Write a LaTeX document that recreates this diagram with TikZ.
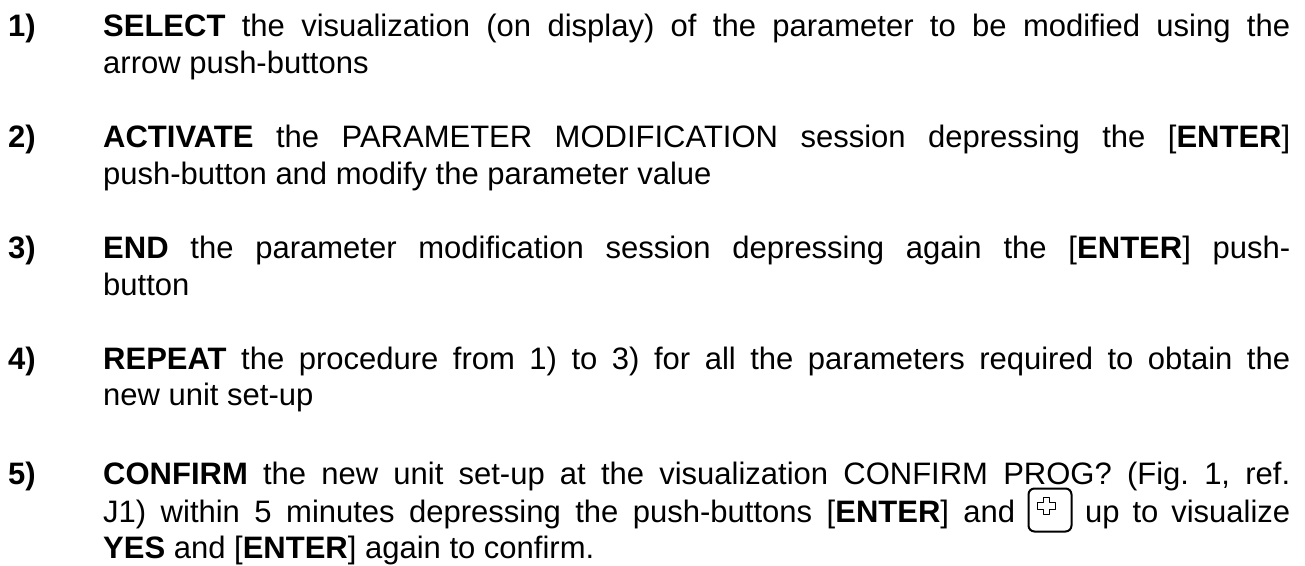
\documentclass[tikz,border=0pt]{standalone}
\usepackage{fontspec}
\usetikzlibrary{calc}
\setmainfont{Liberation Sans}
\frenchspacing
\newcommand{\fsz}{\fontsize{31pt}{37pt}\selectfont\frenchspacing}
\newcommand{\jline}[1]{\makebox[1187pt][s]{#1}}
\tikzset{
  num/.style={anchor=base west, inner sep=0pt, font={\fsz\bfseries}},
  txt/.style={anchor=base west, inner sep=0pt, font=\fsz},
  keybox/.style={draw, line width=2pt, rounded corners=6pt, minimum width=43pt, minimum height=43pt, inner sep=0pt},
  plusmark/.style={draw, line width=1.1pt, line join=round}
}
\begin{document}
\begin{tikzpicture}[x=1pt,y=-1pt]
\fill[white] (0,0) rectangle (1305,565);
\useasboundingbox (0,0) rectangle (1305,565);
% item 1
\node[num] (n1) at (8,36) {1)};
\node[txt] (l1a) at (103,36) {\jline{\textbf{SELECT} the visualization (on display) of the parameter to be modified using the}};
\node[txt] (l1b) at (103,73) {arrow push-buttons};
% item 2
\node[num] (n2) at (8,147) {2)};
\node[txt] (l2a) at (103,147) {\jline{\textbf{ACTIVATE} the PARAMETER MODIFICATION session depressing the [\textbf{ENTER}]}};
\node[txt] (l2b) at (103,184) {push-button and modify the parameter value};
% item 3
\node[num] (n3) at (8,258) {3)};
\node[txt] (l3a) at (103,258) {\jline{\textbf{END} the parameter modification session depressing again the [\textbf{ENTER}] push-}};
\node[txt] (l3b) at (103,295) {button};
% item 4
\node[num] (n4) at (8,369) {4)};
\node[txt] (l4a) at (103,369) {\jline{\textbf{REPEAT} the procedure from 1) to 3) for all the parameters required to obtain the}};
\node[txt] (l4b) at (103,405) {new unit set-up};
% item 5
\node[num] (n5) at (8,484) {5)};
\node[txt] (l5a) at (103,484) {\jline{\textbf{CONFIRM} the new unit set-up at the visualization CONFIRM PROG? (Fig. 1, ref.}};
\node[txt] (l5b) at (103,522) {\makebox[912pt][s]{J1) within 5 minutes depressing the push-buttons [\textbf{ENTER}] and}};
\node[keybox] (key) at (1050,510) {};
\coordinate (pc) at ($(key.center)+(-3.5,-4)$);
\draw[plusmark, shift={(pc)}] (-3.3,-8.7) -- (3.3,-8.7) -- (3.3,-3.3) -- (8.7,-3.3) -- (8.7,3.3) -- (3.3,3.3) -- (3.3,8.7) -- (-3.3,8.7) -- (-3.3,3.3) -- (-8.7,3.3) -- (-8.7,-3.3) -- (-3.3,-3.3) -- cycle;
\node[txt] (l5c) at (1085,522) {\makebox[205pt][s]{up to visualize}};
\node[txt] (l5d) at (103,558) {\textbf{YES} and [\textbf{ENTER}] again to confirm.};
\end{tikzpicture}
\end{document}
